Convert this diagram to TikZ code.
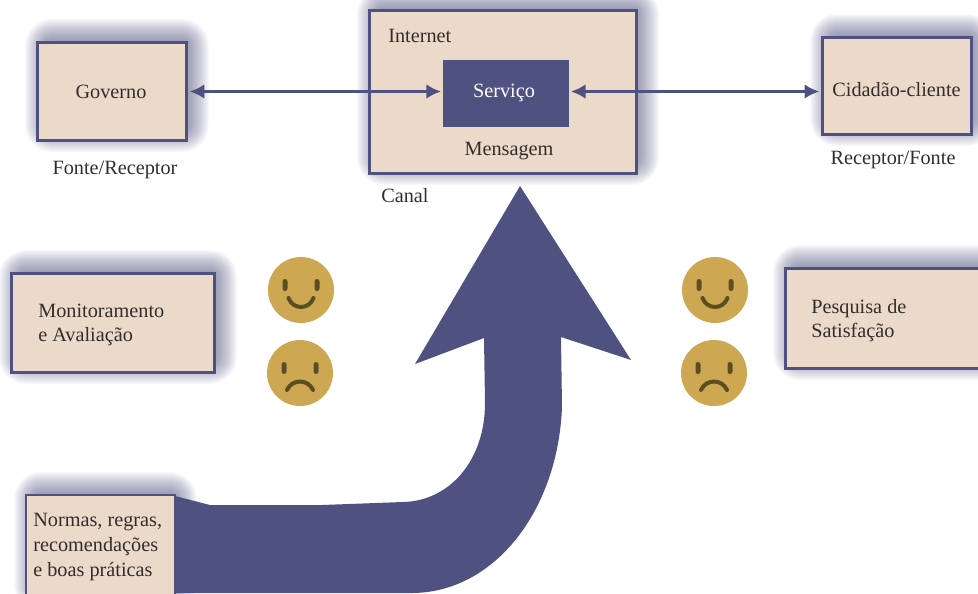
\documentclass[tikz,border=0pt]{standalone}
\usepackage{fontspec}
\usetikzlibrary{arrows.meta}
\setmainfont{Liberation Serif}
\definecolor{boxfill}{HTML}{EBD9C9}
\definecolor{navy}{HTML}{4F5280}
\definecolor{ink}{HTML}{332E2E}
\definecolor{smile}{HTML}{CDA752}
\definecolor{smileink}{HTML}{5B4F22}
\tikzset{
  x=0.75pt,y=-0.75pt,
  lbl/.style={text=ink,font=\fontsize{15.2pt}{18.5pt}\selectfont,inner sep=0pt},
  lblleft/.style={lbl,align=left,anchor=west},
  panel/.style={draw=navy,line width=2pt,fill=boxfill,inner sep=0pt},
  link/.style={draw=navy,line width=2.5pt,{Latex[length=11pt,width=11pt]}-{Latex[length=11pt,width=11pt]},shorten <=1.2pt,shorten >=1.2pt},
  face/.pic={\fill[smile] (0,0) circle (33);
    \fill[smileink,rounded corners=1.8pt] (-18.5,-11) rectangle (-13.5,1);
    \fill[smileink,rounded corners=1.8pt] (13.5,-11) rectangle (18.5,1);},
  happy/.pic={\pic{face};\draw[smileink,line width=3pt,line cap=round] (-12.5,8) .. controls (-8,20) and (8,20) .. (12.5,8);},
  sad/.pic={\pic{face};\draw[smileink,line width=3pt,line cap=round] (-13,17) .. controls (-8,5.7) and (8,5.7) .. (13,17);},
}
\newcommand{\softshadow}[4]{%
  \foreach \e in {-8,-7,...,17}{
    \pgfmathsetmacro{\rc}{(\e+10)*0.75}
    \fill[navy,opacity=0.032,rounded corners=\rc pt] (#1-\e+5,#2-\e-6) rectangle (#3+\e+5,#4+\e-6);
  }}
\begin{document}
\begin{tikzpicture}
\useasboundingbox (0,0) rectangle (978,593);
\clip (0,0) rectangle (978,593);
\fill[white] (0,0) rectangle (978,593);
\softshadow{37}{42}{187}{141}
\softshadow{369}{10}{637}{174}
\softshadow{822}{37}{972}{135}
\softshadow{11}{273}{215}{373}
\softshadow{785}{268}{990}{369}
\softshadow{26}{495}{175}{600}
% big arrow
\fill[navy] (520,186) -- (631,360) -- (561,337) -- (562,407)
  .. controls (558,510) and (495,592) .. (413,593)
  -- (175,593) -- (175,496) -- (210,505) -- (322,505) -- (403,502)
  .. controls (450,501) and (485,460) .. (485,403)
  -- (484,338) -- (415,364) -- cycle;
% boxes
\node[panel,minimum width=149.5*0.75pt,minimum height=98.5*0.75pt] (gov) at (112,91.5) {};
\node[panel,minimum width=267.5*0.75pt,minimum height=163.5*0.75pt] (net) at (503,92) {};
\node[fill=navy,minimum width=126*0.75pt,minimum height=67*0.75pt,inner sep=0pt] (srv) at (506,93.5) {};
\node[panel,minimum width=149.5*0.75pt,minimum height=97.5*0.75pt] (cid) at (897,86) {};
\node[panel,minimum width=203.5*0.75pt,minimum height=99.5*0.75pt] (mon) at (113,323) {};
\node[panel,minimum width=209.5*0.75pt,minimum height=100.5*0.75pt] (pes) at (890,318.5) {};
\node[panel,minimum width=149*0.75pt,minimum height=110*0.75pt] (nor) at (100.5,550) {};
% labels
\node[lbl] (govt) at (111,91.5) {Governo};
\node[lbl,text=white] (srvt) at (504,92.5) {Serviço};
\node[lbl] (cidt) at (896.5,90) {Cidadão-cliente};
\node[lbl] (fr) at (115,170) {Fonte/Receptor};
\node[lbl] (rf) at (893,160) {Receptor/Fonte};
\node[lbl,anchor=west] (int) at (388,36) {Internet};
\node[lbl] (msg) at (509,151) {Mensagem};
\node[lbl,anchor=west] (can) at (381,196) {Canal};
\node[lblleft] (mont) at (38,325) {Monitoramento\\e Avaliação};
\node[lblleft] (pest) at (811,320.5) {Pesquisa de\\Satisfação};
\node[lblleft] (nort) at (33,547) {Normas, regras,\\recomendações\\e boas práticas};
% connectors
\draw[link] (gov.east) -- (gov.east -| srv.west);
\draw[link] (gov.east -| srv.east) -- (gov.east -| cid.west);
% faces
\pic at (301,290) {happy};
\pic at (300,373) {sad};
\pic at (715,290) {happy};
\pic at (714,373) {sad};
\end{tikzpicture}
\end{document}
